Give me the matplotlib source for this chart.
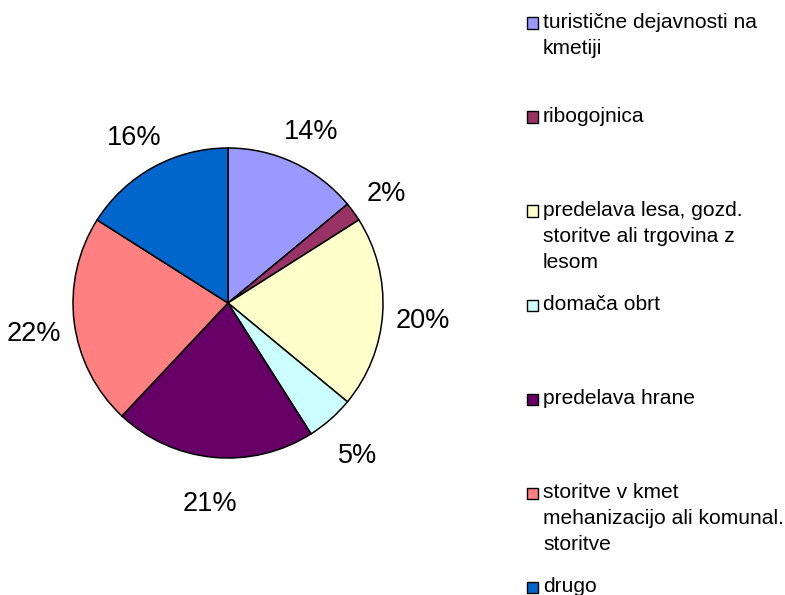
import matplotlib.pyplot as plt
from matplotlib.patches import Rectangle

plt.rcParams['font.family'] = ['Liberation Sans', 'DejaVu Sans']

# data
labels = [
    "turistične dejavnosti na\nkmetiji",
    "ribogojnica",
    "predelava lesa, gozd.\nstoritve ali trgovina z\nlesom",
    "domača obrt",
    "predelava hrane",
    "storitve v kmet\nmehanizacijo ali komunal.\nstoritve",
    "drugo",
]
shares = [14, 2, 20, 5, 21, 22, 16]
colors = ["#9999FF", "#993366", "#FFFFCC", "#CCFFFF", "#660066", "#FF8080", "#0066CC"]

W, H = 785, 595
fig = plt.figure(figsize=(W / 100, H / 100), dpi=100)

# pie: centre ~ (228, 303) px, radius ~155 px
cx, cy, r = 228, 303, 155
ax = fig.add_axes([(cx - r) / W, (H - cy - r) / H, 2 * r / W, 2 * r / H])
wedges, texts, autotexts = ax.pie(
    shares, colors=colors, startangle=90, counterclock=False,
    autopct='%.0f%%', pctdistance=1.26, radius=1,
    wedgeprops=dict(edgecolor='black', linewidth=1.1),
    textprops=dict(fontsize=19.5, color='black'))
# Excel puts the labels a touch lower than matplotlib does
for t in autotexts:
    x, y = t.get_position()
    t.set_position((x, y - 0.04))
ax.set_xlim(-1, 1)
ax.set_ylim(-1, 1)
ax.set_aspect('equal')

# legend built by hand: squares equally spaced, text hangs from first line
lx, top, step, sq = 527, 23, 94, 11
for i, (lab, col) in enumerate(zip(labels, colors)):
    yc = top + i * step
    fig.patches.append(Rectangle((lx / W, (H - yc - sq / 2) / H), sq / W, sq / H,
                                 transform=fig.transFigure, facecolor=col,
                                 edgecolor='black', linewidth=1.0))
    fig.text((lx + 16) / W, (H - yc + 9.5) / H, lab, fontsize=15.1,
             va='top', ha='left', linespacing=1.45)

fig.savefig('out.png', dpi=100, facecolor='white')
